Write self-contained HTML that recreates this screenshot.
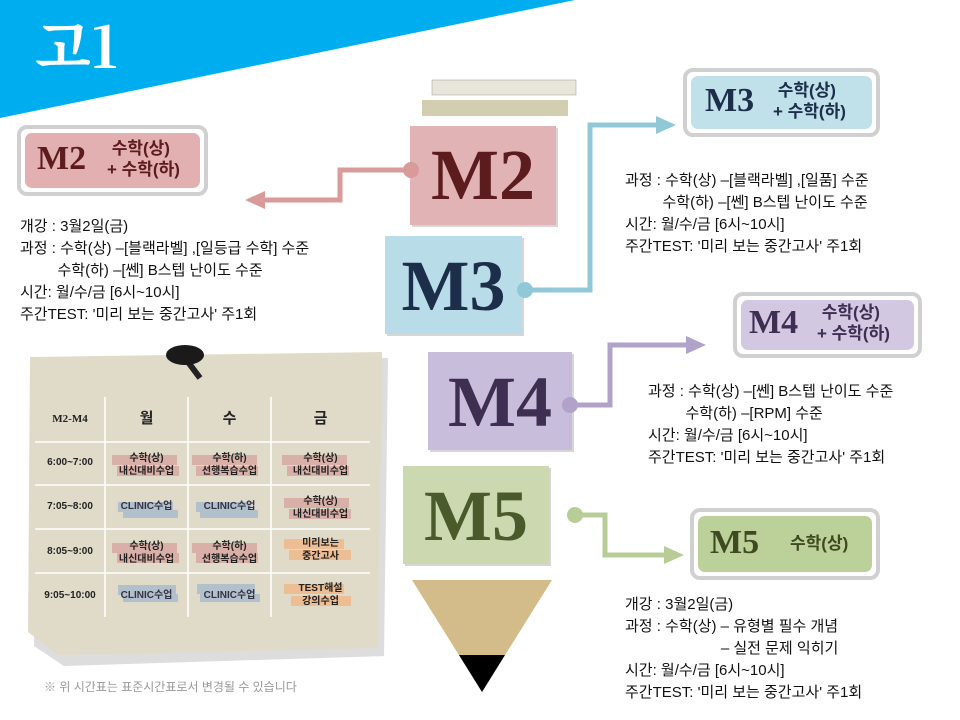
<!DOCTYPE html>
<html><head><meta charset="utf-8"><style>
body{margin:0;width:960px;height:720px;overflow:hidden;background:#fff;position:relative;font-family:"Liberation Sans","Noto Sans CJK KR",sans-serif;}
.a{position:absolute;}
.t{font-size:15px;line-height:22px;color:#111;white-space:pre;}
.big{font-family:"Liberation Serif","Noto Serif CJK SC",serif;font-weight:bold;}
.lbl{position:absolute;border:4px solid #d0d0d0;border-radius:10px;background:#fff;}
.lbl div.in{position:absolute;left:4px;top:4px;right:4px;bottom:4px;border-radius:7px;}
.tb{position:absolute;font-size:10px;line-height:13px;text-align:center;white-space:pre;color:#222;font-weight:bold;}
.sub{position:absolute;font-size:17px;line-height:21px;font-weight:bold;white-space:pre;}
</style></head><body>
<svg class="a" style="left:0;top:0" width="960" height="720">
<polygon points="0,0 575,0 0,118" fill="#00aeef"/>
<rect x="432" y="80" width="144" height="15" fill="#e8e6da" stroke="#999" stroke-width="0.5"/>
<rect x="422" y="100" width="146" height="16" fill="#d2ceb0"/>
<g fill="none" stroke-width="5">
<polyline points="411,170 340,170 340,200 262,200" stroke="#d99a9a"/>
<polyline points="525,290 590,290 590,125 660,125" stroke="#90c8d8"/>
<polyline points="570,405 610,405 610,345 690,345" stroke="#b0a2c8"/>
<polyline points="575,515 605,515 605,555 668,555" stroke="#b8cc98"/>
</g>
<polygon points="245,200 265,191 265,209" fill="#d99a9a"/>
<polygon points="676,125 656,116 656,134" fill="#90c8d8"/>
<polygon points="706,345 686,336 686,354" fill="#b0a2c8"/>
<polygon points="684,555 664,546 664,564" fill="#b8cc98"/>
<rect x="412" y="128" width="146" height="99" fill="#999" opacity=".4"/>
<rect x="410" y="126" width="146" height="99" fill="#e2b3b5"/>
<rect x="387" y="238" width="137" height="98" fill="#999" opacity=".4"/>
<rect x="385" y="236" width="137" height="98" fill="#b8dde8"/>
<rect x="430" y="354" width="144" height="98" fill="#999" opacity=".4"/>
<rect x="428" y="352" width="144" height="98" fill="#c8bedc"/>
<rect x="405" y="468" width="146" height="98" fill="#999" opacity=".4"/>
<rect x="403" y="466" width="146" height="98" fill="#ccd8b0"/>
<circle cx="411" cy="170" r="8" fill="#d99a9a"/>
<circle cx="525" cy="290" r="8" fill="#90c8d8"/>
<circle cx="570" cy="405" r="8" fill="#b0a2c8"/>
<circle cx="575" cy="515" r="8" fill="#b8cc98"/>
<polygon points="412,580 552,580 482,692" fill="#d4bc8a"/>
<polygon points="459,655 505,655 482,692" fill="#000"/>
<polygon points="32,360 384,352 380,650 60,660 30,640" fill="#bbb" opacity=".5" transform="translate(4,6)"/>
<polygon points="30,357 382,352 378,648 58,655 28,632" fill="#dfdbc8"/>
<g stroke="#fff" stroke-width="1.5">
<line x1="105" y1="397" x2="105" y2="617"/><line x1="188" y1="397" x2="188" y2="617"/><line x1="271" y1="397" x2="271" y2="617"/>
<line x1="35" y1="442" x2="370" y2="442"/><line x1="35" y1="485" x2="370" y2="485"/><line x1="35" y1="529" x2="370" y2="529"/><line x1="35" y1="573" x2="370" y2="573"/>
</g>
<line x1="188" y1="362" x2="200" y2="378" stroke="#222" stroke-width="6"/>
<ellipse cx="185" cy="355" rx="19" ry="10" fill="#1a1a1a"/>
<g opacity=".85">
<rect x="112" y="455" width="65" height="10" fill="#d9a9a3"/><rect x="117" y="466" width="62" height="10" fill="#d9a9a3"/>
<rect x="192" y="455" width="65" height="10" fill="#d9a9a3"/><rect x="196" y="466" width="62" height="10" fill="#d9a9a3"/>
<rect x="282" y="455" width="65" height="10" fill="#d9a9a3"/><rect x="287" y="466" width="62" height="10" fill="#d9a9a3"/>
<rect x="118" y="502" width="55" height="10" fill="#a9bccc"/><rect x="123" y="510" width="55" height="8" fill="#a9bccc"/>
<rect x="196" y="502" width="55" height="10" fill="#a9bccc"/><rect x="200" y="510" width="58" height="8" fill="#a9bccc"/>
<rect x="284" y="498" width="65" height="10" fill="#d9a9a3"/><rect x="289" y="509" width="62" height="10" fill="#d9a9a3"/>
<rect x="112" y="543" width="65" height="10" fill="#d9a9a3"/><rect x="117" y="553" width="62" height="10" fill="#d9a9a3"/>
<rect x="192" y="543" width="65" height="10" fill="#d9a9a3"/><rect x="196" y="553" width="62" height="10" fill="#d9a9a3"/>
<rect x="284" y="539" width="60" height="10" fill="#f0b88a"/><rect x="289" y="550" width="62" height="10" fill="#f0b88a"/>
<rect x="118" y="585" width="58" height="10" fill="#a9bccc"/><rect x="123" y="594" width="55" height="8" fill="#a9bccc"/>
<rect x="197" y="584" width="58" height="10" fill="#a9bccc"/><rect x="200" y="594" width="60" height="8" fill="#a9bccc"/>
<rect x="284" y="584" width="60" height="10" fill="#f0b88a"/><rect x="291" y="596" width="60" height="10" fill="#f0b88a"/>
</g>
</svg>

<div class="a big" style="left:35px;top:8px;font-size:58px;color:#fff;font-family:'Noto Serif CJK SC',serif;line-height:70px;">고1</div>

<div class="a big" style="left:410px;top:126px;width:146px;height:99px;line-height:99px;text-align:center;font-size:72px;color:#5c1c1e;">M2</div>
<div class="a big" style="left:385px;top:236px;width:137px;height:98px;line-height:100px;text-align:center;font-size:72px;color:#1c2e4a;">M3</div>
<div class="a big" style="left:428px;top:352px;width:144px;height:98px;line-height:100px;text-align:center;font-size:72px;color:#3e2e52;">M4</div>
<div class="a big" style="left:403px;top:466px;width:146px;height:98px;line-height:100px;text-align:center;font-size:72px;color:#4a5a2a;">M5</div>

<div class="lbl" style="left:17px;top:125px;width:183px;height:63px;"><div class="in" style="background:#e2b0b0"></div>
<div class="a big" style="left:16px;top:11px;font-size:34px;color:#5c1c1e;">M2</div>
<div class="sub" style="left:86px;top:9px;color:#5c1c1e;"> 수학(상)
+ 수학(하)</div></div>

<div class="lbl" style="left:683px;top:68px;width:189px;height:61px;"><div class="in" style="background:#c0e0ea"></div>
<div class="a big" style="left:18px;top:10px;font-size:34px;color:#1c2e4a;">M3</div>
<div class="sub" style="left:86px;top:8px;color:#1c2e4a;"> 수학(상)
+ 수학(하)</div></div>

<div class="lbl" style="left:733px;top:292px;width:181px;height:58px;"><div class="in" style="background:#d2c8e2"></div>
<div class="a big" style="left:12px;top:8px;font-size:34px;color:#3e2e52;">M4</div>
<div class="sub" style="left:80px;top:6px;color:#3e2e52;"> 수학(상)
+ 수학(하)</div></div>

<div class="lbl" style="left:690px;top:508px;width:182px;height:64px;"><div class="in" style="background:#bcd09a"></div>
<div class="a big" style="left:16px;top:12px;font-size:34px;color:#3e4a20;">M5</div>
<div class="sub" style="left:96px;top:21px;color:#3e4a20;">수학(상)</div></div>

<div class="a t" style="left:20px;top:216px;">개강 : 3월2일(금)
과정 : 수학(상) –[블랙라벨] ,[일등급 수학] 수준
         수학(하) –[쎈] B스텝 난이도 수준
시간: 월/수/금 [6시~10시]
주간TEST: '미리 보는 중간고사' 주1회</div>

<div class="a t" style="left:625px;top:170px;">과정 : 수학(상) –[블랙라벨] ,[일품] 수준
         수학(하) –[쎈] B스텝 난이도 수준
시간: 월/수/금 [6시~10시]
주간TEST: '미리 보는 중간고사' 주1회</div>

<div class="a t" style="left:648px;top:381px;">과정 : 수학(상) –[쎈] B스텝 난이도 수준
         수학(하) –[RPM] 수준
시간: 월/수/금 [6시~10시]
주간TEST: '미리 보는 중간고사' 주1회</div>

<div class="a t" style="left:625px;top:594px;">개강 : 3월2일(금)
과정 : 수학(상) – 유형별 필수 개념
                       – 실전 문제 익히기
시간: 월/수/금 [6시~10시]
주간TEST: '미리 보는 중간고사' 주1회</div>

<div class="tb" style="left:35px;top:413px;width:70px;font-size:11px;font-family:'Liberation Serif',serif;">M2-M4</div>
<div class="tb" style="left:105px;top:410px;width:83px;font-size:15px;line-height:18px;">월</div>
<div class="tb" style="left:188px;top:410px;width:83px;font-size:15px;line-height:18px;">수</div>
<div class="tb" style="left:271px;top:410px;width:99px;font-size:15px;line-height:18px;">금</div>
<div class="tb" style="left:35px;top:456px;width:70px;">6:00~7:00</div>
<div class="tb" style="left:35px;top:500px;width:70px;">7:05~8:00</div>
<div class="tb" style="left:35px;top:545px;width:70px;">8:05~9:00</div>
<div class="tb" style="left:35px;top:589px;width:70px;">9:05~10:00</div>
<div class="tb" style="left:105px;top:452px;width:83px;">수학(상)
내신대비수업</div>
<div class="tb" style="left:188px;top:452px;width:83px;">수학(하)
선행복습수업</div>
<div class="tb" style="left:271px;top:452px;width:99px;">수학(상)
내신대비수업</div>
<div class="tb" style="left:105px;top:500px;width:83px;color:#334;">CLINIC수업</div>
<div class="tb" style="left:188px;top:500px;width:83px;color:#334;">CLINIC수업</div>
<div class="tb" style="left:271px;top:495px;width:99px;">수학(상)
내신대비수업</div>
<div class="tb" style="left:105px;top:540px;width:83px;">수학(상)
내신대비수업</div>
<div class="tb" style="left:188px;top:540px;width:83px;">수학(하)
선행복습수업</div>
<div class="tb" style="left:271px;top:537px;width:99px;">미리보는
중간고사</div>
<div class="tb" style="left:105px;top:589px;width:83px;color:#334;">CLINIC수업</div>
<div class="tb" style="left:188px;top:589px;width:83px;color:#334;">CLINIC수업</div>
<div class="tb" style="left:271px;top:582px;width:99px;">TEST해설
강의수업</div>

<div class="a" style="left:44px;top:678px;font-size:12px;color:#999;white-space:pre;">※ 위 시간표는 표준시간표로서 변경될 수 있습니다</div>
</body></html>
